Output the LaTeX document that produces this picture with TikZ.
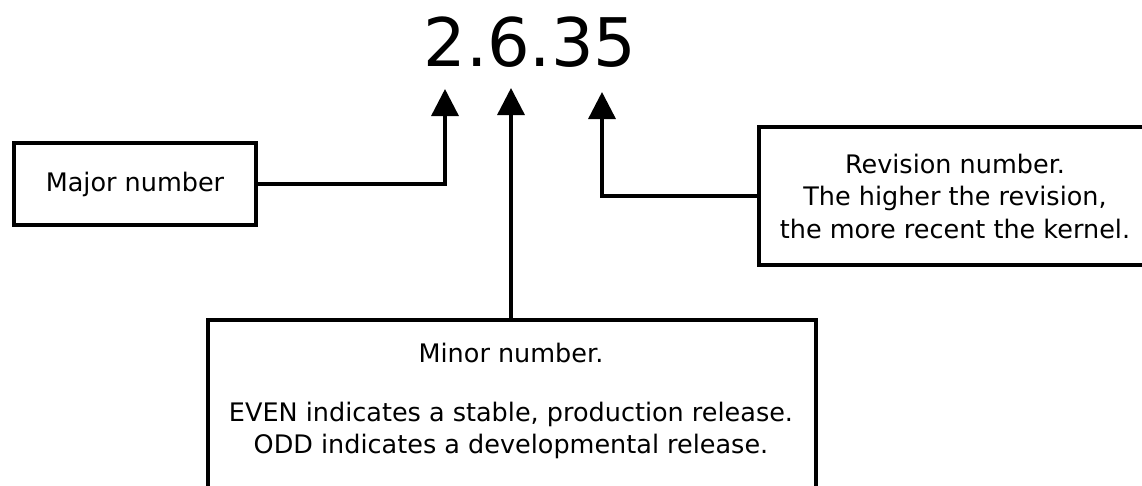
\documentclass[tikz,border=0pt]{standalone}
\usepackage{fontspec}
\setmainfont{DejaVu Sans}
\usetikzlibrary{arrows.meta}
\begin{document}
\begin{tikzpicture}[x=1pt,y=-1pt,
  box/.style={draw=black,line width=3.2pt,rectangle,inner sep=0pt,align=center,
    font=\fontsize{25.5}{32.5}\selectfont},
  label/.style={inner sep=0pt,align=center,font=\fontsize{25.5}{32.5}\selectfont},
  conn/.style={line width=3.4pt,-{Triangle[length=27pt,width=27pt]}}]
\clip (0,0) rectangle (1142,485);
\fill[white] (0,0) rectangle (1142,485);
\node[inner sep=0pt,font=\fontsize{67}{80}\selectfont] (title) at (530,42) {2.6.35};
\coordinate (tipA) at (445,89);
\coordinate (tipB) at (511,88);
\coordinate (tipC) at (602,92);
\node[box,minimum width=242pt,minimum height=82pt] (major) at (135,184) {Major number};
\node[box,minimum width=392pt,minimum height=138pt] (rev) at (955,196)
  {Revision number.\\The higher the revision,\\the more recent the kernel.};
\node[box,minimum width=608pt,minimum height=190pt] (minor) at (512,415) {};
\node[label] (minortext) at (511,401)
  {Minor number.\\[26pt]EVEN indicates a stable, production release.\\ODD indicates a developmental release.};
\draw[conn] (major.east) -| (tipA);
\draw[conn] (minor.north -| tipB) -- (tipB);
\draw[conn] (rev.west) -| (tipC);
\end{tikzpicture}
\end{document}
